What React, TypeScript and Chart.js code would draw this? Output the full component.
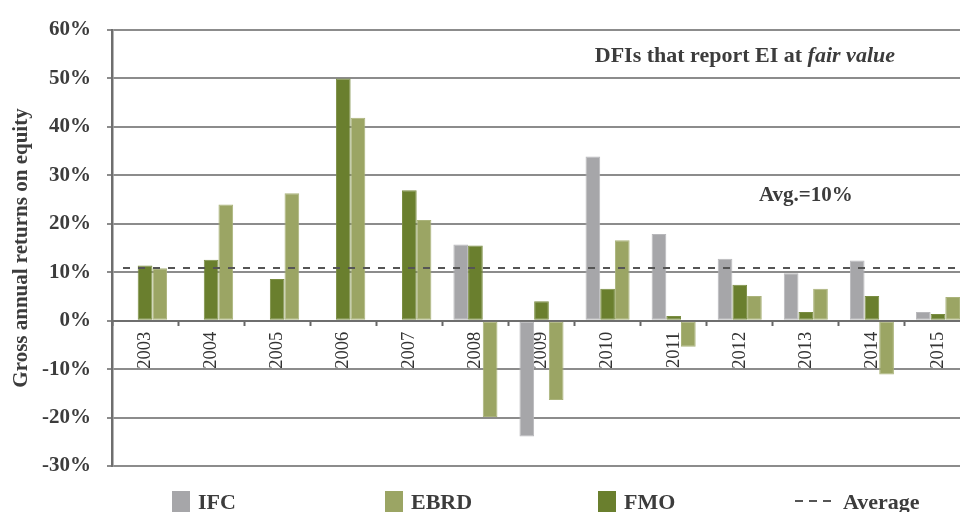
import React, { useEffect, useRef } from "react";
import { Chart, registerables } from "chart.js";

Chart.register(...registerables);

// ---- Data ----
const years = ["2003", "2004", "2005", "2006", "2007", "2008", "2009", "2010", "2011", "2012", "2013", "2014", "2015"];
const ifcValues = [null, null, null, null, null, 15.7, -23.9, 33.9, 17.9, 12.8, 9.8, 12.4, 1.8];
const fmoValues = [11.4, 12.6, 8.6, 50.0, 26.9, 15.5, 4.0, 6.6, 0.95, 7.4, 1.8, 5.1, 1.4];
const ebrdValues = [10.8, 24.0, 26.3, 41.9, 20.8, -19.9, -16.4, 16.6, -5.4, 5.1, 6.6, -11.1, 4.9];
const averageValue = 10.9;
const yTickValues = [-30, -20, -10, 0, 10, 20, 30, 40, 50, 60];
const seriesNames = ["IFC", "FMO", "EBRD"];
const legendLabels = ["IFC", "EBRD", "FMO", "Average"];
const titleBold = "DFIs that report EI at ";
const titleItalic = "fair value";
const avgLabel = "Avg.=10%";
const yAxisTitle = "Gross annual returns on equity";

// ---- Styles ----
const FONT = "'Liberation Serif', 'Times New Roman', serif";
const TEXT = "#3c3c3c";
const GRAY = "#a6a6a9";
const DARK = "#6a7f2e";
const LIGHT = "#9ba564";
const colorsByName: Record<string, string> = { IFC: GRAY, FMO: DARK, EBRD: LIGHT };
const edgeByName: Record<string, string> = { IFC: "#b8b8bb", FMO: "#7a8d42", EBRD: "#aab37a" };

const overlayPlugin = {
  id: "overlay",
  afterDatasetsDraw(chart: any) {
    const { ctx, chartArea, scales } = chart;
    const x = scales.x;
    const y = scales.y;
    const catW = (x.right - x.left) / years.length;
    const groupW = catW * 0.667;
    const startX = x.getPixelForValue(0) - groupW / 2;
    const yPix = Math.round(y.getPixelForValue(averageValue));
    ctx.save();
    ctx.strokeStyle = "#555555";
    ctx.lineWidth = 2;
    ctx.setLineDash([7, 8]);
    ctx.beginPath();
    ctx.moveTo(startX, yPix);
    ctx.lineTo(chartArea.right, yPix);
    ctx.stroke();
    ctx.restore();
  },
  afterDraw(chart: any) {
    const { ctx } = chart;
    ctx.save();
    ctx.fillStyle = TEXT;
    ctx.textBaseline = "alphabetic";
    ctx.textAlign = "left";
    // title
    ctx.font = `bold 22px ${FONT}`;
    const bw = ctx.measureText(titleBold).width;
    ctx.font = `italic bold 22px ${FONT}`;
    const iw = ctx.measureText(titleItalic).width;
    const tx = 895 - bw - iw;
    ctx.font = `bold 22px ${FONT}`;
    ctx.fillText(titleBold, tx, 62);
    ctx.font = `italic bold 22px ${FONT}`;
    ctx.fillText(titleItalic, tx + bw, 62);
    // avg label
    ctx.font = `bold 21px ${FONT}`;
    ctx.fillText(avgLabel, 759, 201);
    // legend
    const legendX = [172, 385, 598, 795];
    ctx.font = `bold 22px ${FONT}`;
    legendLabels.forEach((name, i) => {
      const lx = legendX[i];
      if (name === "Average") {
        ctx.save();
        ctx.strokeStyle = "#555555";
        ctx.lineWidth = 2;
        ctx.setLineDash([8, 6]);
        ctx.beginPath();
        ctx.moveTo(lx, 501);
        ctx.lineTo(lx + 40, 501);
        ctx.stroke();
        ctx.restore();
        ctx.fillStyle = TEXT;
        ctx.fillText(name, lx + 48, 509);
      } else {
        ctx.fillStyle = colorsByName[name];
        ctx.fillRect(lx, 491, 18, 21);
        ctx.fillStyle = TEXT;
        ctx.fillText(name, lx + 26, 509);
      }
    });
    ctx.restore();
  },
};

export default function App() {
  const ref = useRef<HTMLCanvasElement>(null);
  useEffect(() => {
    const seriesData: Record<string, (number | null)[]> = { IFC: ifcValues, FMO: fmoValues, EBRD: ebrdValues };
    const chart = new Chart(ref.current as HTMLCanvasElement, {
      type: "bar",
      data: {
        labels: years,
        datasets: seriesNames.map((name) => ({
          label: name,
          data: seriesData[name],
          backgroundColor: colorsByName[name],
          borderColor: edgeByName[name],
          borderWidth: 1,
          borderSkipped: false,
          categoryPercentage: 0.667,
          barPercentage: 1,
        })),
      },
      options: {
        responsive: false,
        animation: false,
        devicePixelRatio: 1,
        layout: { padding: { left: 0, top: 30, right: 29, bottom: 46 } },
        plugins: { legend: { display: false }, tooltip: { enabled: false } },
        scales: {
          x: {
            type: "category",
            position: { y: 0 },
            offset: true,
            grid: {
              offset: true,
              drawOnChartArea: false,
              drawTicks: true,
              tickLength: 4,
              tickWidth: 2,
              color: "#666666",
            },
            border: { display: true, color: "#6e6e6e", width: 2 },
            ticks: {
              autoSkip: false,
              minRotation: 90,
              maxRotation: 90,
              padding: 7,
              color: "#333333",
              font: { family: FONT, size: 18.5, weight: "normal" },
            },
          },
          y: {
            type: "linear",
            min: -30,
            max: 60,
            afterFit: (scale: any) => {
              scale.width = 112;
            },
            afterBuildTicks: (scale: any) => {
              scale.ticks = yTickValues.map((v) => ({ value: v }));
            },
            grid: {
              color: "#8c8c8c",
              lineWidth: 2,
              drawTicks: true,
              tickLength: 5,
            },
            border: { display: true, color: "#6e6e6e", width: 2.5 },
            ticks: {
              padding: 16,
              color: TEXT,
              font: { family: FONT, size: 21, weight: "bold" },
              callback: (v: any) => `${v}%`,
            },
            title: {
              display: true,
              text: yAxisTitle,
              color: TEXT,
              font: { family: FONT, size: 21, weight: "bold" },
              padding: { top: 9, bottom: 0 },
            },
          },
        },
      },
      plugins: [overlayPlugin],
    } as any);
    return () => chart.destroy();
  }, []);
  return (
    <div
      style={{
        position: "fixed",
        left: 0,
        top: 0,
        width: 960,
        height: 512,
        overflow: "hidden",
        background: "#ffffff",
      }}
    >
      <canvas ref={ref} width={1000} height={512} style={{ display: "block", width: 1000, height: 512 }} />
    </div>
  );
}
